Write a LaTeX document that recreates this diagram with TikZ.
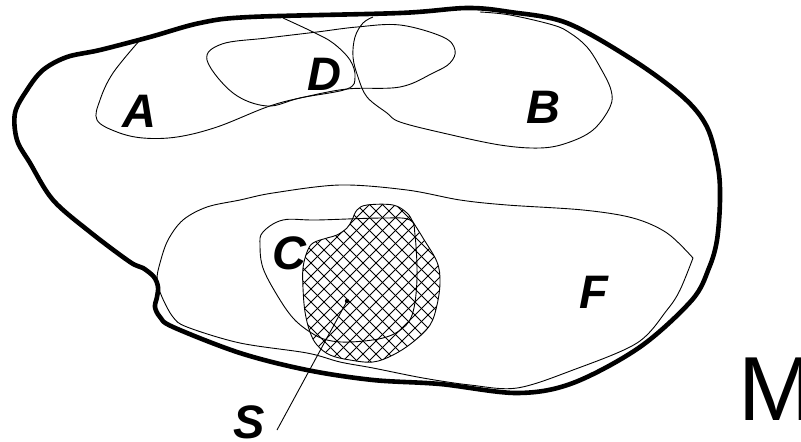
\documentclass[tikz,border=0pt]{standalone}
\usepackage{fontspec}
\newfontfamily\labfont{Liberation Sans}
\begin{document}
\begin{tikzpicture}[x=1pt,y=-1pt,
  region/.style={draw=black,line width=0.9pt,line join=round},
  boundary/.style={draw=black,line width=4.6pt,line join=round},
  hatchline/.style={draw=black,line width=0.9pt},
  setlabel/.style={inner sep=0pt,anchor=base,font=\labfont\bfseries\itshape\fontsize{47}{47}\selectfont},
  spacelabel/.style={inner sep=0pt,anchor=base west,font=\labfont\fontsize{91}{91}\selectfont}]
\useasboundingbox (0,0) rectangle (801,442);

% cross-hatched set S
\begin{scope}
  \clip plot[smooth cycle,tension=0.6] coordinates {(357,210) (367,205) (393,205) (407,213) (413,222) (423,238) (437,262) (440,282) (437,305) (430,325) (413,342) (393,355) (373,362) (350,360) (330,355) (317,345) (310,332) (305,312) (303,288) (303,268) (307,252) (313,243) (327,238) (337,235) (347,228) (352,220)};
  \foreach \c in {113,126,...,460} \draw[hatchline] (\c,195) -- ++(180,180);
  \foreach \c in {288,301,...,640} \draw[hatchline] (\c,195) -- ++(-180,180);
\end{scope}
\draw[region] plot[smooth cycle,tension=0.6] coordinates {(357,210) (367,205) (393,205) (407,213) (413,222) (423,238) (437,262) (440,282) (437,305) (430,325) (413,342) (393,355) (373,362) (350,360) (330,355) (317,345) (310,332) (305,312) (303,288) (303,268) (307,252) (313,243) (327,238) (337,235) (347,228) (352,220)};

% set A
\draw[region] plot[smooth,tension=0.6] coordinates {(140,40) (113,73) (100,100) (97,120) (117,132) (143,138) (177,137) (217,127) (267,107) (300,98) (347,89) (355,77) (350,60) (333,43) (313,32) (283,18)};
% set D
\draw[region] plot[smooth cycle,tension=0.6] coordinates {(207,60) (222,44) (267,38) (317,32) (357,27) (400,25) (443,37) (455,50) (450,63) (433,73) (400,87) (347,89) (300,98) (267,106) (233,93)};
% set B
\draw[region] plot[smooth,tension=0.6] coordinates {(373,17) (363,23) (355,37) (353,57) (358,77) (367,97) (387,113) (400,122) (443,133) (500,145) (540,148) (567,143) (593,130) (610,107) (611,90) (600,67) (587,47) (570,33) (553,25) (510,15) (480,12)};
% set F
\draw[region] plot[smooth,tension=0.55] coordinates {(693,258) (680,290) (667,310) (637,343) (573,370) (517,388) (470,385) (423,378) (373,368) (340,362) (307,353) (240,343) (187,327) (173,317) (162,297) (157,280) (160,263) (168,240) (183,220) (207,207) (240,200) (273,193) (340,185) (407,190) (460,200) (507,205) (583,210) (633,218) (667,233) (693,258)};
% set C
\draw[region] plot[smooth cycle,tension=0.6] coordinates {(263,232) (283,220) (317,220) (383,218) (410,220) (415,235) (417,278) (413,312) (403,328) (383,338) (350,342) (327,340) (310,332) (293,318) (277,295) (263,268) (260,245)};

% space M
\draw[boundary] plot[smooth cycle,tension=0.55] coordinates {(400,13) (467,8) (510,12) (567,23) (633,60) (683,97) (707,127) (718,167) (720,200) (717,240) (709,268) (692,300) (640,347) (573,383) (517,393) (440,384) (373,380) (307,370) (240,353) (173,327) (160,317) (155,307) (157,297) (158,287) (154,277) (143,268) (130,262) (90,232) (53,200) (30,163) (17,140) (15,113) (27,90) (43,70) (67,57) (100,50) (150,37) (200,23) (250,17)};

% point of S and its label line
\coordinate (sPoint) at (347,301);
\coordinate (sTail) at (277,430);
\fill (sPoint) circle (2.2);
\draw[line width=0.9pt] (sPoint) -- (sTail);

\node[setlabel] (labA) at (139,127) {A};
\node[setlabel] (labD) at (324,90) {D};
\node[setlabel] (labB) at (543,123) {B};
\node[setlabel] (labC) at (289,269) {C};
\node[setlabel] (labF) at (594,308) {F};
\node[setlabel] (labS) at (249,438) {S};
\node[spacelabel] (labM) at (738,420) {M};
\end{tikzpicture}
\end{document}
